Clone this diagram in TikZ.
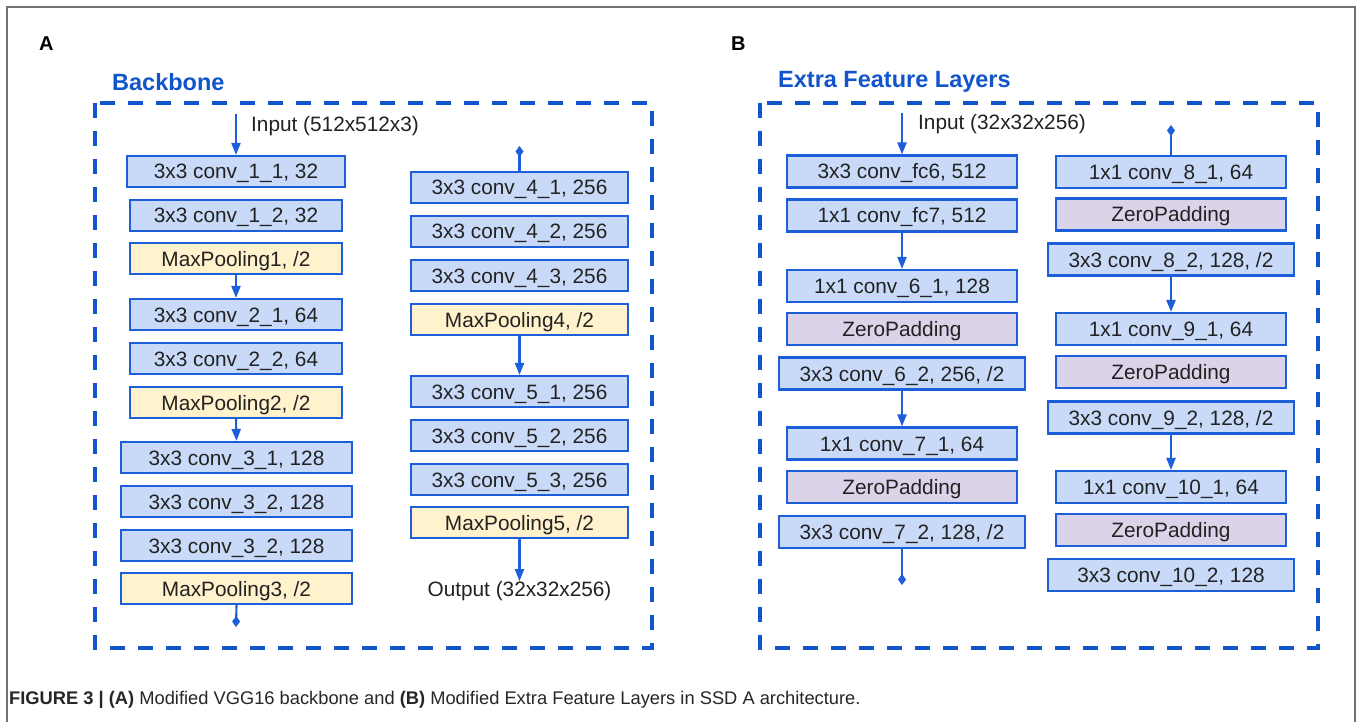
\documentclass[tikz,border=0pt]{standalone}
\usepackage{fontspec}
\setmainfont{Liberation Sans}
\usetikzlibrary{arrows.meta}
\definecolor{lineblue}{HTML}{1C5FD8}
\definecolor{titleblue}{HTML}{1155CC}
\definecolor{convfill}{HTML}{C9DAF8}
\definecolor{poolfill}{HTML}{FFF2CC}
\definecolor{padfill}{HTML}{DBD3E8}
\definecolor{textgray}{HTML}{222222}
\tikzset{
  layer/.style={draw=lineblue, line width=2.1pt, minimum height=31pt, inner sep=0pt,
    text height=15pt, text depth=0pt,
    font=\fontsize{20.8}{22}\selectfont, text=textgray},
  conv/.style={layer, fill=convfill},
  pool/.style={layer, fill=poolfill},
  pad/.style={layer, fill=padfill},
  flow/.style={draw=lineblue, line width=2.1pt, -{Triangle[length=12pt,width=9pt]}},
  tailend/.style={draw=lineblue, line width=2.1pt, -{Diamond[length=11pt,width=8pt]}},
  headend/.style={draw=lineblue, line width=2.1pt, {Diamond[length=11pt,width=8pt]}-},
  region/.style={draw=titleblue, line width=4pt, dash pattern=on 15pt off 13pt},
  paneltitle/.style={font=\bfseries\fontsize{23.5}{26}\selectfont, text=titleblue, anchor=west, inner sep=0pt},
  panelletter/.style={font=\bfseries\fontsize{20}{22}\selectfont, anchor=west, inner sep=0pt},
  note/.style={font=\fontsize{20.8}{22}\selectfont, text=textgray, inner sep=0pt}
}
\begin{document}
\begin{tikzpicture}[x=1pt,y=-1pt]
\useasboundingbox (0,0) rectangle (1360,722);
\fill[white] (0,0) rectangle (1360,722);
% page frame
\draw[gray!90!black, line width=1.8pt] (7,722) -- (7,7) -- (1355,7) -- (1355,722);

% panel labels and titles
\node[panelletter] (la) at (39,44) {A};
\node[panelletter] (lb) at (731,44) {B};
\node[paneltitle] (ta) at (112,82) {Backbone};
\node[paneltitle] (tb) at (778,82) {Extra Feature Layers};
\draw[region] (95,103) rectangle (652,648);
\draw[region] (760,103) rectangle (1318,648);

% ---- Backbone, first column
\coordinate (inA) at (236,114);
\node[note, anchor=west] (inAtxt) at (251,126) {Input (512x512x3)};
\node[conv, minimum width=218pt] (c11) at (236,171.5) {3x3 conv\_1\_1, 32};
\node[conv, minimum width=212pt] (c12) at (236,215.5) {3x3 conv\_1\_2, 32};
\node[pool, minimum width=212pt] (p1) at (236,258.5) {MaxPooling1, /2};
\node[conv, minimum width=212pt] (c21) at (236,314.5) {3x3 conv\_2\_1, 64};
\node[conv, minimum width=212pt] (c22) at (236,358.5) {3x3 conv\_2\_2, 64};
\node[pool, minimum width=212pt] (p2) at (236,402.5) {MaxPooling2, /2};
\node[conv, minimum width=231pt] (c31) at (236.5,457.5) {3x3 conv\_3\_1, 128};
\node[conv, minimum width=231pt] (c32) at (236.5,501.5) {3x3 conv\_3\_2, 128};
\node[conv, minimum width=231pt] (c33) at (236.5,545.5) {3x3 conv\_3\_2, 128};
\node[pool, minimum width=231pt] (p3) at (236.5,588.5) {MaxPooling3, /2};
\coordinate (outA) at (236,627);
\draw[flow] (inA) -- (c11.north);
\draw[flow] (p1.south) -- (c21.north);
\draw[flow] (p2.south) -- (c31.north);
\draw[tailend] (p3.south) -- (outA);

% ---- Backbone, second column
\coordinate (inA2) at (519.5,146);
\node[conv, minimum width=217pt] (c41) at (519.5,187.5) {3x3 conv\_4\_1, 256};
\node[conv, minimum width=217pt] (c42) at (519.5,231.5) {3x3 conv\_4\_2, 256};
\node[conv, minimum width=217pt] (c43) at (519.5,275.5) {3x3 conv\_4\_3, 256};
\node[pool, minimum width=217pt] (p4) at (519.5,319.5) {MaxPooling4, /2};
\node[conv, minimum width=217pt] (c51) at (519.5,391.5) {3x3 conv\_5\_1, 256};
\node[conv, minimum width=217pt] (c52) at (519.5,435.5) {3x3 conv\_5\_2, 256};
\node[conv, minimum width=217pt] (c53) at (519.5,479.5) {3x3 conv\_5\_3, 256};
\node[pool, minimum width=217pt] (p5) at (519.5,522.5) {MaxPooling5, /2};
\node[note] (outAtxt) at (519.5,591) {Output (32x32x256)};
\draw[headend] (inA2) -- (c41.north);
\draw[flow] (p4.south) -- (c51.north);
\draw[flow] (p5.south) -- (outAtxt.north);

% ---- Extra feature layers, first column
\coordinate (inB) at (902,113);
\node[note, anchor=west] (inBtxt) at (918,124) {Input (32x32x256)};
\node[conv, minimum width=230pt, minimum height=32pt] (fc6) at (902,171.5) {3x3 conv\_fc6, 512};
\node[conv, minimum width=230pt, minimum height=32pt] (fc7) at (902,215.5) {1x1 conv\_fc7, 512};
\node[conv, minimum width=230pt, minimum height=32pt] (c61) at (902,286) {1x1 conv\_6\_1, 128};
\node[pad, minimum width=230pt, minimum height=32pt] (z1) at (902,329) {ZeroPadding};
\node[conv, minimum width=246pt, minimum height=32pt] (c62) at (902,373.5) {3x3 conv\_6\_2, 256, /2};
\node[conv, minimum width=230pt, minimum height=32pt] (c71) at (902,443.5) {1x1 conv\_7\_1, 64};
\node[pad, minimum width=230pt, minimum height=32pt] (z2) at (902,487) {ZeroPadding};
\node[conv, minimum width=246pt, minimum height=32pt] (c72) at (902,532) {3x3 conv\_7\_2, 128, /2};
\coordinate (outB) at (902,585);
\draw[flow] (inB) -- (fc6.north);
\draw[flow] (fc7.south) -- (c61.north);
\draw[flow] (c62.south) -- (c71.north);
\draw[tailend] (c72.south) -- (outB);

% ---- Extra feature layers, second column
\coordinate (inB2) at (1171,125);
\node[conv, minimum width=230pt, minimum height=32pt] (c81) at (1171,172) {1x1 conv\_8\_1, 64};
\node[pad, minimum width=230pt, minimum height=32pt] (z3) at (1171,214.5) {ZeroPadding};
\node[conv, minimum width=246pt, minimum height=32pt] (c82) at (1171,259.5) {3x3 conv\_8\_2, 128, /2};
\node[conv, minimum width=230pt, minimum height=32pt] (c91) at (1171,329) {1x1 conv\_9\_1, 64};
\node[pad, minimum width=230pt, minimum height=32pt] (z4) at (1171,372) {ZeroPadding};
\node[conv, minimum width=246pt, minimum height=32pt] (c92) at (1171,417.5) {3x3 conv\_9\_2, 128, /2};
\node[conv, minimum width=230pt, minimum height=32pt] (c101) at (1171,487) {1x1 conv\_10\_1, 64};
\node[pad, minimum width=230pt, minimum height=32pt] (z5) at (1171,530) {ZeroPadding};
\node[conv, minimum width=246pt, minimum height=32pt] (c102) at (1171,575) {3x3 conv\_10\_2, 128};
\draw[headend] (inB2) -- (c81.north);
\draw[flow] (c82.south) -- (c91.north);
\draw[flow] (c92.south) -- (c101.north);

% caption
\node[anchor=west, inner sep=0pt, font=\fontsize{18.3}{20}\selectfont, text=black!85] (cap) at (9,700)
  {\textbf{FIGURE 3 | (A)} Modified VGG16 backbone and \textbf{(B)} Modified Extra Feature Layers in SSD A architecture.};
\end{tikzpicture}
\end{document}
